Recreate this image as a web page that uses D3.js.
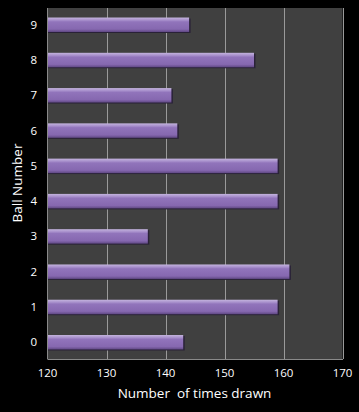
<!DOCTYPE html>
<html><head><meta charset="utf-8">
<script src="https://cdn.jsdelivr.net/npm/d3@7"></script>
<style>body{margin:0;background:#000;}svg{display:block;}</style>
</head><body>
<svg id="c" width="359" height="412"></svg>
<script>
const categories = ["0","1","2","3","4","5","6","7","8","9"];
const values = [143,159,161,137,159,159,142,141,155,144];
const xTicks = [120,130,140,150,160,170];

const svg = d3.select("#c");
const m = {left:47.5, right:342.5, top:8, bottom:359};
svg.append("rect").attr("width",359).attr("height",412).attr("fill","#000");
svg.append("rect").attr("x",m.left).attr("y",m.top).attr("width",m.right-m.left).attr("height",m.bottom-m.top).attr("fill","#404040");

const x = d3.scaleLinear().domain([120,170]).range([m.left,m.right]);
const y = d3.scaleBand().domain(categories.slice().reverse()).range([m.top,m.bottom]).paddingInner(0.59).paddingOuter(0.27);

const defs = svg.append("defs");
const g = defs.append("linearGradient").attr("id","bg").attr("x1",0).attr("y1",0).attr("x2",0).attr("y2",1);
[[0,"#c4b4de"],[0.18,"#a890cc"],[0.3,"#9174bb"],[0.8,"#8668b0"],[1,"#604884"]].forEach(s=>g.append("stop").attr("offset",s[0]).attr("stop-color",s[1]));

// gridlines
svg.append("g").selectAll("line").data(xTicks.slice(1)).join("line")
  .attr("x1",d=>Math.round(x(d))+0.5).attr("x2",d=>Math.round(x(d))+0.5)
  .attr("y1",m.top).attr("y2",m.bottom).attr("stroke","#9a9a9a").attr("stroke-width",1);

// bars shadow
svg.append("g").selectAll("rect").data(values).join("rect")
  .attr("x",x(120)).attr("y",(d,i)=>y(categories[i])+1)
  .attr("width",d=>x(d)-x(120)+1.5).attr("height",y.bandwidth())
  .attr("fill","#2a2238");
svg.append("g").selectAll("rect").data(values).join("rect")
  .attr("x",x(120)).attr("y",(d,i)=>y(categories[i]))
  .attr("width",d=>x(d)-x(120)).attr("height",y.bandwidth())
  .attr("fill","url(#bg)");

// axes lines
svg.append("line").attr("x1",m.left).attr("x2",m.left).attr("y1",m.top).attr("y2",m.bottom).attr("stroke","#8a8a8a");
svg.append("line").attr("x1",m.left).attr("x2",m.right+0.5).attr("y1",m.bottom+0.5).attr("y2",m.bottom+0.5).attr("stroke","#8a8a8a");

const font = "'Open Sans', 'DejaVu Sans', sans-serif";
// x tick labels
svg.append("g").selectAll("text").data(xTicks).join("text")
  .attr("x",d=>x(d)).attr("y",377).attr("text-anchor","middle")
  .attr("fill","#fff").attr("font-family",font).attr("font-size",11.5).text(d=>d);
// y tick labels
svg.append("g").selectAll("text").data(categories).join("text")
  .attr("x",37).attr("y",d=>y(d)+y.bandwidth()/2+4).attr("text-anchor","end")
  .attr("fill","#fff").attr("font-family",font).attr("font-size",11.5).text(d=>d);
// titles
svg.append("text").attr("x",194.5).attr("y",398).attr("text-anchor","middle")
  .attr("fill","#fff").attr("font-family",font).attr("font-size",13.5).attr("xml:space","preserve").style("white-space","pre").text("Number  of times drawn");
svg.append("text").attr("transform","translate(22,183) rotate(-90)").attr("text-anchor","middle")
  .attr("fill","#fff").attr("font-family",font).attr("font-size",13.5).text("Ball Number");
</script>
</body></html>
